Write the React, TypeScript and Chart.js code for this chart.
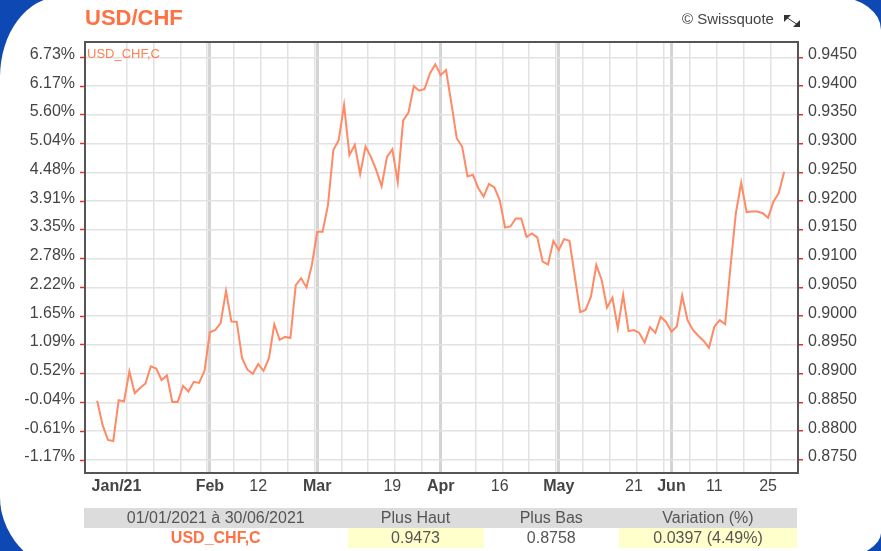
import React, { useEffect, useRef } from 'react';
import { Chart, registerables } from 'chart.js';

Chart.register(...registerables);

// Daily closes USD/CHF (trading days), grouped by month
const JAN_CLOSES = [0.8853, 0.8811, 0.8785, 0.8783, 0.8854, 0.8852, 0.8904, 0.8866, 0.8875, 0.8883, 0.8913, 0.8909, 0.8889, 0.8897, 0.8851, 0.8851, 0.8879, 0.8869, 0.8886, 0.8884, 0.8905];
const FEB_CLOSES = [0.8972, 0.8976, 0.8988, 0.9044, 0.8991, 0.8990, 0.8927, 0.8907, 0.8900, 0.8917, 0.8905, 0.8927, 0.8986, 0.8959, 0.8964, 0.8962, 0.9054, 0.9066, 0.9050, 0.9089];
const MAR_CLOSES = [0.9147, 0.9147, 0.9193, 0.9289, 0.9306, 0.9367, 0.9280, 0.9298, 0.9247, 0.9295, 0.9277, 0.9254, 0.9226, 0.9277, 0.9290, 0.9233, 0.9340, 0.9354, 0.9400, 0.9392, 0.9395, 0.9422, 0.9438];
const APR_CLOSES = [0.9419, 0.9428, 0.9370, 0.9309, 0.9295, 0.9243, 0.9246, 0.9223, 0.9208, 0.9230, 0.9224, 0.9202, 0.9154, 0.9156, 0.9170, 0.9170, 0.9138, 0.9144, 0.9137, 0.9095, 0.9090, 0.9131];
const MAY_CLOSES = [0.9115, 0.9134, 0.9131, 0.9069, 0.9007, 0.9011, 0.9034, 0.9089, 0.9063, 0.9015, 0.9032, 0.8979, 0.9037, 0.8974, 0.8976, 0.8971, 0.8954, 0.8981, 0.8971, 0.8999, 0.8990];
const JUN_CLOSES = [0.8973, 0.8982, 0.9036, 0.8993, 0.8976, 0.8966, 0.8957, 0.8945, 0.8982, 0.8993, 0.8986, 0.9086, 0.9179, 0.9232, 0.9181, 0.9182, 0.9182, 0.9179, 0.9171, 0.9199, 0.9214, 0.9251];

const MONTH_NAMES = ['Jan/21', 'Feb', 'Mar', 'Apr', 'May', 'Jun'];
const FIRST_LABEL_POS = 3.6;
const DAY_LABEL_IDX = [30, 55, 75, 100, 115, 125];
const DAY_LABELS = ['12', '19', '16', '21', '11', '25'];
const WEEK_LINES = [5.5, 10.5, 15.5, 20.5, 25.5, 30.5, 35.5, 40.5, 45.5, 50.5, 55.5, 60.5, 70.5, 75.5, 80.5, 85.5, 90.5, 95.5, 100.5, 105.5, 110.5, 115.5, 120.5, 125.5];

const PRICE_TICKS = [0.875, 0.88, 0.885, 0.89, 0.895, 0.9, 0.905, 0.91, 0.915, 0.92, 0.925, 0.93, 0.935, 0.94, 0.945];
const PRICE_LABELS = ['0.8750', '0.8800', '0.8850', '0.8900', '0.8950', '0.9000', '0.9050', '0.9100', '0.9150', '0.9200', '0.9250', '0.9300', '0.9350', '0.9400', '0.9450'];
const PCT_LABELS = ['-1.17%', '-0.61%', '-0.04%', '0.52%', '1.09%', '1.65%', '2.22%', '2.78%', '3.35%', '3.91%', '4.48%', '5.04%', '5.60%', '6.17%', '6.73%'];

const FOOTER_HEADERS = ['01/01/2021 à 30/06/2021', 'Plus Haut', 'Plus Bas', 'Variation (%)'];
const FOOTER_VALUES = ['USD_CHF,C', '0.9473', '0.8758', '0.0397 (4.49%)'];

const SERIES_NAME = 'USD_CHF,C';
const TITLE = 'USD/CHF';

const Y_MIN = 0.87274;
const Y_MAX = 0.94767;
const X_MIN = -2.27;
const X_MAX = 130.58;

const FONT = '"Liberation Sans", Arial, sans-serif';
const CORAL = '#ff7043';
const LINE = '#ff8a65';
const TEXT = '#444';
const RED_TICK = '#e8302a';

type Spec = { value: number; label: string; bold: boolean; line: 'none' | 'week' | 'month' };

function buildSpecs(): Spec[] {
  const months = [JAN_CLOSES, FEB_CLOSES, MAR_CLOSES, APR_CLOSES, MAY_CLOSES, JUN_CLOSES];
  const specs: Spec[] = [];
  let start = 0;
  months.forEach((m, k) => {
    if (k === 0) specs.push({ value: FIRST_LABEL_POS, label: MONTH_NAMES[0], bold: true, line: 'none' });
    else specs.push({ value: start, label: MONTH_NAMES[k], bold: true, line: 'month' });
    start += m.length;
  });
  DAY_LABEL_IDX.forEach((v, k) => specs.push({ value: v, label: DAY_LABELS[k], bold: false, line: 'none' }));
  WEEK_LINES.forEach((v) => specs.push({ value: v, label: '', bold: false, line: 'week' }));
  return specs.sort((a, b) => a.value - b.value);
}

const framePlugin = {
  id: 'frame',
  afterDatasetsDraw(chart: any) {
    const { ctx, chartArea } = chart;
    ctx.save();
    ctx.strokeStyle = '#555';
    ctx.lineWidth = 2;
    ctx.strokeRect(chartArea.left, chartArea.top, chartArea.right - chartArea.left, chartArea.bottom - chartArea.top);
    ctx.restore();
  },
};

export default function App() {
  const ref = useRef<HTMLCanvasElement | null>(null);

  useEffect(() => {
    if (!ref.current) return;
    const closes = [...JAN_CLOSES, ...FEB_CLOSES, ...MAR_CLOSES, ...APR_CLOSES, ...MAY_CLOSES, ...JUN_CLOSES];
    const specs = buildSpecs();
    const chart = new Chart(ref.current, {
      type: 'line',
      data: {
        datasets: [
          {
            label: SERIES_NAME,
            data: closes.map((v, i) => ({ x: i, y: v })),
            borderColor: LINE,
            borderWidth: 2,
            pointRadius: 0,
            tension: 0,
            fill: false,
            yAxisID: 'y',
            xAxisID: 'x',
          },
        ],
      },
      options: {
        animation: false,
        responsive: false,
        devicePixelRatio: 1,
        layout: { padding: { top: 42, bottom: 48, left: 0, right: 0 } },
        plugins: { legend: { display: false }, tooltip: { enabled: false }, title: { display: false } },
        scales: {
          x: {
            type: 'linear',
            min: X_MIN,
            max: X_MAX,
            afterBuildTicks: (s: any) => {
              s.ticks = specs.map((t) => ({ value: t.value }));
            },
            afterFit: (s: any) => {
              s.height = 30;
            },
            border: { display: false },
            grid: {
              drawTicks: false,
              color: (ctx: any) => {
                const sp = specs[ctx.index];
                if (!sp || sp.line === 'none') return 'rgba(0,0,0,0)';
                return sp.line === 'month' ? '#d4d4d4' : '#e2e2e2';
              },
              lineWidth: (ctx: any) => {
                const sp = specs[ctx.index];
                if (!sp || sp.line === 'none') return 0;
                return sp.line === 'month' ? 3 : 1.5;
              },
            },
            ticks: {
              autoSkip: false,
              maxRotation: 0,
              minRotation: 0,
              padding: 4,
              color: TEXT,
              font: (ctx: any) => ({ family: FONT, size: 16, weight: specs[ctx.index]?.bold ? 'bold' : 'normal' }),
              callback: (_v: any, i: number) => (specs[i] ? specs[i].label : ''),
            },
          },
          y: {
            type: 'linear',
            position: 'right',
            min: Y_MIN,
            max: Y_MAX,
            afterBuildTicks: (s: any) => {
              s.ticks = PRICE_TICKS.map((v) => ({ value: v }));
            },
            afterFit: (s: any) => {
              s.width = 83;
            },
            border: { display: false },
            grid: { color: '#e2e2e2', lineWidth: 1.5, drawTicks: true, tickColor: RED_TICK, tickLength: 5, tickWidth: 1.5 },
            ticks: {
              padding: 5,
              color: TEXT,
              labelOffset: -3,
              font: { family: FONT, size: 16 },
              callback: (_v: any, i: number) => PRICE_LABELS[i],
            },
          },
          yL: {
            type: 'linear',
            position: 'left',
            min: Y_MIN,
            max: Y_MAX,
            afterBuildTicks: (s: any) => {
              s.ticks = PRICE_TICKS.map((v) => ({ value: v }));
            },
            afterFit: (s: any) => {
              s.width = 85;
            },
            border: { display: false },
            grid: { drawOnChartArea: false, drawTicks: true, tickColor: RED_TICK, tickLength: 5, tickWidth: 1.5 },
            ticks: {
              padding: 5,
              color: TEXT,
              labelOffset: -3,
              font: { family: FONT, size: 16 },
              callback: (_v: any, i: number) => PCT_LABELS[i],
            },
          },
        },
      } as any,
      plugins: [framePlugin],
    });
    return () => chart.destroy();
  }, []);

  const cols = [
    { left: 84, width: 263.5 },
    { left: 347.5, width: 136 },
    { left: 483.5, width: 135.5 },
    { left: 619, width: 178 },
  ];

  return (
    <div style={{ position: 'fixed', left: 0, top: 0, width: 881, height: 551, overflow: 'hidden', background: '#0e48b3', fontFamily: FONT }}>
      <div
        style={{
          position: 'absolute',
          left: 0,
          top: -3,
          width: 881,
          height: 580,
          background: '#fff',
          borderRadius: '60px 45px 161px 90px / 80px 33px 44px 80px',
        }}
      />
      <canvas ref={ref} width={881} height={551} style={{ position: 'absolute', left: 0, top: 0, width: 881, height: 551 }} />
      <div style={{ position: 'absolute', left: 85, top: 7, fontSize: 22, lineHeight: '22px', fontWeight: 'bold', color: CORAL, whiteSpace: 'nowrap' }}>{TITLE}</div>
      <div style={{ position: 'absolute', left: 87, top: 46.5, fontSize: 13, lineHeight: '13px', color: '#ff7f50', whiteSpace: 'nowrap' }}>{SERIES_NAME}</div>
      <div style={{ position: 'absolute', left: 682, top: 11, fontSize: 15, lineHeight: '15px', color: TEXT, whiteSpace: 'nowrap' }}>© Swissquote</div>
      <svg width={18} height={14} viewBox="0 0 18 14" style={{ position: 'absolute', left: 783, top: 14 }}>
        <polygon points="1,1 8,1 1,8" fill="#333" />
        <polygon points="17,6 17,13 10,13" fill="#333" />
        <line x1="3" y1="3" x2="15" y2="11" stroke="#333" strokeWidth="1" />
      </svg>
      <div style={{ position: 'absolute', left: 84, top: 508, width: 713, height: 20, background: '#dcdcdc' }} />
      {FOOTER_HEADERS.map((h, k) => (
        <div
          key={'h' + k}
          style={{ position: 'absolute', left: cols[k].left, top: 508, width: cols[k].width, height: 20, lineHeight: '20px', textAlign: 'center', fontSize: 16, color: '#555', whiteSpace: 'nowrap' }}
        >
          {h}
        </div>
      ))}
      {FOOTER_VALUES.map((v, k) => (
        <div
          key={'v' + k}
          style={{
            position: 'absolute',
            left: cols[k].left,
            top: 528,
            width: cols[k].width,
            height: 20,
            lineHeight: '20px',
            textAlign: 'center',
            fontSize: 16,
            whiteSpace: 'nowrap',
            background: k === 1 || k === 3 ? '#ffffcc' : 'transparent',
            color: k === 0 ? CORAL : '#555',
            fontWeight: k === 0 ? 'bold' : 'normal',
          }}
        >
          {v}
        </div>
      ))}
    </div>
  );
}
